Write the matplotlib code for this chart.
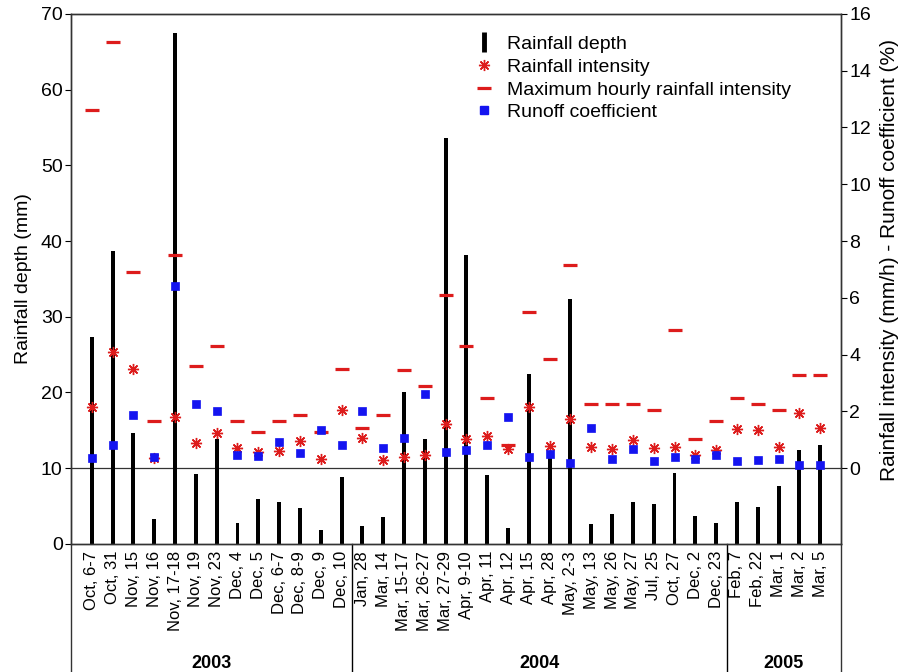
import matplotlib
matplotlib.use("Agg")
import matplotlib.pyplot as plt
from matplotlib.lines import Line2D

plt.rcParams['font.family'] = ['Liberation Sans', 'DejaVu Sans']

# Evenements pluvieux, par annee
events_2003 = ["Oct, 6-7", "Oct, 31", "Nov, 15", "Nov, 16", "Nov, 17-18", "Nov, 19", "Nov, 23",
               "Dec, 4", "Dec, 5", "Dec, 6-7", "Dec, 8-9", "Dec, 9", "Dec, 10"]
events_2004 = ["Jan, 28", "Mar, 14", "Mar, 15-17", "Mar, 26-27", "Mar, 27-29", "Apr, 9-10",
               "Apr, 11", "Apr, 12", "Apr, 15", "Apr, 28", "May, 2-3", "May, 13", "May, 26",
               "May, 27", "Jul, 25", "Oct, 27", "Dec, 2", "Dec, 23"]
events_2005 = ["Feb, 7", "Feb, 22", "Mar, 1", "Mar, 2", "Mar, 5"]
years = ["2003", "2004", "2005"]

# Hauteur de pluie (mm) - axe de gauche
depth = [27.3, 38.7, 14.7, 3.3, 67.5, 9.3, 13.9, 2.8, 5.9, 5.6, 4.7, 1.9, 8.9,
         2.4, 3.5, 20.0, 13.9, 53.6, 38.1, 9.1, 2.1, 22.4, 12.3, 32.4, 2.6, 3.9, 5.6, 5.3,
         9.4, 3.7, 2.8,
         5.6, 4.9, 7.6, 12.4, 13.1]
# Intensite moyenne (mm/h) - axe de droite
intensity = [2.15, 4.1, 3.5, 0.35, 1.8, 0.9, 1.25, 0.72, 0.56, 0.62, 0.96, 0.32, 2.04,
             1.07, 0.3, 0.41, 0.45, 1.56, 1.03, 1.15, 0.68, 2.16, 0.8, 1.74, 0.76, 0.66,
             0.98, 0.73, 0.76, 0.47, 0.64,
             1.37, 1.35, 0.76, 1.93, 1.43]
# Intensite horaire maximale (mm/h)
max_hourly = [12.6, 15.0, 6.9, 1.66, 7.5, 3.6, 4.3, 1.66, 1.27, 1.66, 1.86, 1.27, 3.5,
              1.42, 1.86, 3.45, 2.88, 6.1, 4.3, 2.48, 0.82, 5.5, 3.85, 7.15, 2.27, 2.27,
              2.27, 2.06, 4.87, 1.04, 1.66,
              2.48, 2.27, 2.06, 3.3, 3.3]
# Coefficient de ruissellement (%)
runoff = [0.37, 0.82, 1.87, 0.4, 6.4, 2.25, 2.0, 0.45, 0.43, 0.91, 0.53, 1.36, 0.83,
          2.03, 0.71, 1.07, 2.6, 0.57, 0.63, 0.83, 1.82, 0.39, 0.51, 0.19, 1.41, 0.34,
          0.68, 0.25, 0.4, 0.34, 0.45,
          0.25, 0.28, 0.34, 0.1, 0.1]

labels = events_2003 + events_2004 + events_2005
x = list(range(len(labels)))
red = '#dd1c1c'
blue = '#1414f0'

fig = plt.figure(figsize=(9.01, 6.72), dpi=100)
ax = fig.add_axes([0.0788, 0.1905, 0.8546, 0.789])

ax.bar(x, depth, width=0.19, color='black', zorder=2)
ax.axhline(10, color='#333333', lw=0.9, zorder=1)
ax.set_xlim(-1, len(labels))
ax.set_ylim(0, 70)
ax.set_yticks(range(0, 71, 10))
ax.set_xticks(x)
ax.set_xticklabels(labels, rotation=90, fontsize=12)
ax.tick_params(axis='x', direction='in', length=4, pad=5)
ax.tick_params(axis='y', direction='out', length=4, labelsize=14, pad=2)
ax.set_ylabel("Rainfall depth (mm)", fontsize=14, labelpad=6)

# Axe de droite: 0 aligne sur 10 mm a gauche
ax2 = ax.twinx()
ax2.set_ylim(-8 / 3, 16)
ax2.set_yticks(range(0, 17, 2))
ax2.tick_params(axis='y', direction='out', length=4, labelsize=14, pad=2)
ax2.plot(x, max_hourly, ls='none', marker='_', ms=10, mew=2.3, color=red, zorder=3)
ax2.plot(x, intensity, ls='none', marker=(8, 2, 0), ms=8, mew=1.0, color=red, zorder=4)
ax2.plot(x, runoff, ls='none', marker='s', ms=5.6, mew=0.5, color=blue, mec=blue, zorder=5)
ax2.set_ylabel("Rainfall intensity (mm/h) - Runoff coefficient (%)", fontsize=15)
ax2.yaxis.set_label_coords(1.051, 0.535)

for a in (ax, ax2):
    for s in a.spines.values():
        s.set_linewidth(1.0)
        s.set_color('#333333')

# Cadre sous l'axe pour les annees
n1, n2 = len(events_2003), len(events_2004)
bottom = -0.26
xt = ax.get_xaxis_transform()
for xs in [n1 - 0.5, n1 + n2 - 0.5]:
    ax.plot([xs, xs], [0, bottom], transform=xt, color='black', lw=1.0, clip_on=False)
for xs in [0, 1]:
    ax.plot([xs, xs], [0, bottom], transform=ax.transAxes, color='#333333', lw=1.0, clip_on=False)
centers = [(-1 + n1 - 0.5) / 2, (n1 - 0.5 + n1 + n2 - 0.5) / 2, (n1 + n2 - 0.5 + len(labels)) / 2]
for c, yr in zip(centers, years):
    ax.text(c, -0.225, yr, transform=xt, ha='center', va='center', fontsize=13, fontweight='bold')

handles = [
    Line2D([], [], ls='none', marker='|', ms=14, mew=3.5, color='black'),
    Line2D([], [], ls='none', marker=(8, 2, 0), ms=8, mew=1.0, color=red),
    Line2D([], [], ls='none', marker='_', ms=10, mew=2.3, color=red),
    Line2D([], [], ls='none', marker='s', ms=5.6, color=blue),
]
names = ["Rainfall depth", "Rainfall intensity", "Maximum hourly rainfall intensity",
         "Runoff coefficient"]
ax2.legend(handles, names, loc='upper left', bbox_to_anchor=(0.508, 0.977), frameon=False,
           fontsize=14, handlelength=1.2, handletextpad=0.6, labelspacing=0.26, borderpad=0)

fig.savefig("out.png", dpi=100)
